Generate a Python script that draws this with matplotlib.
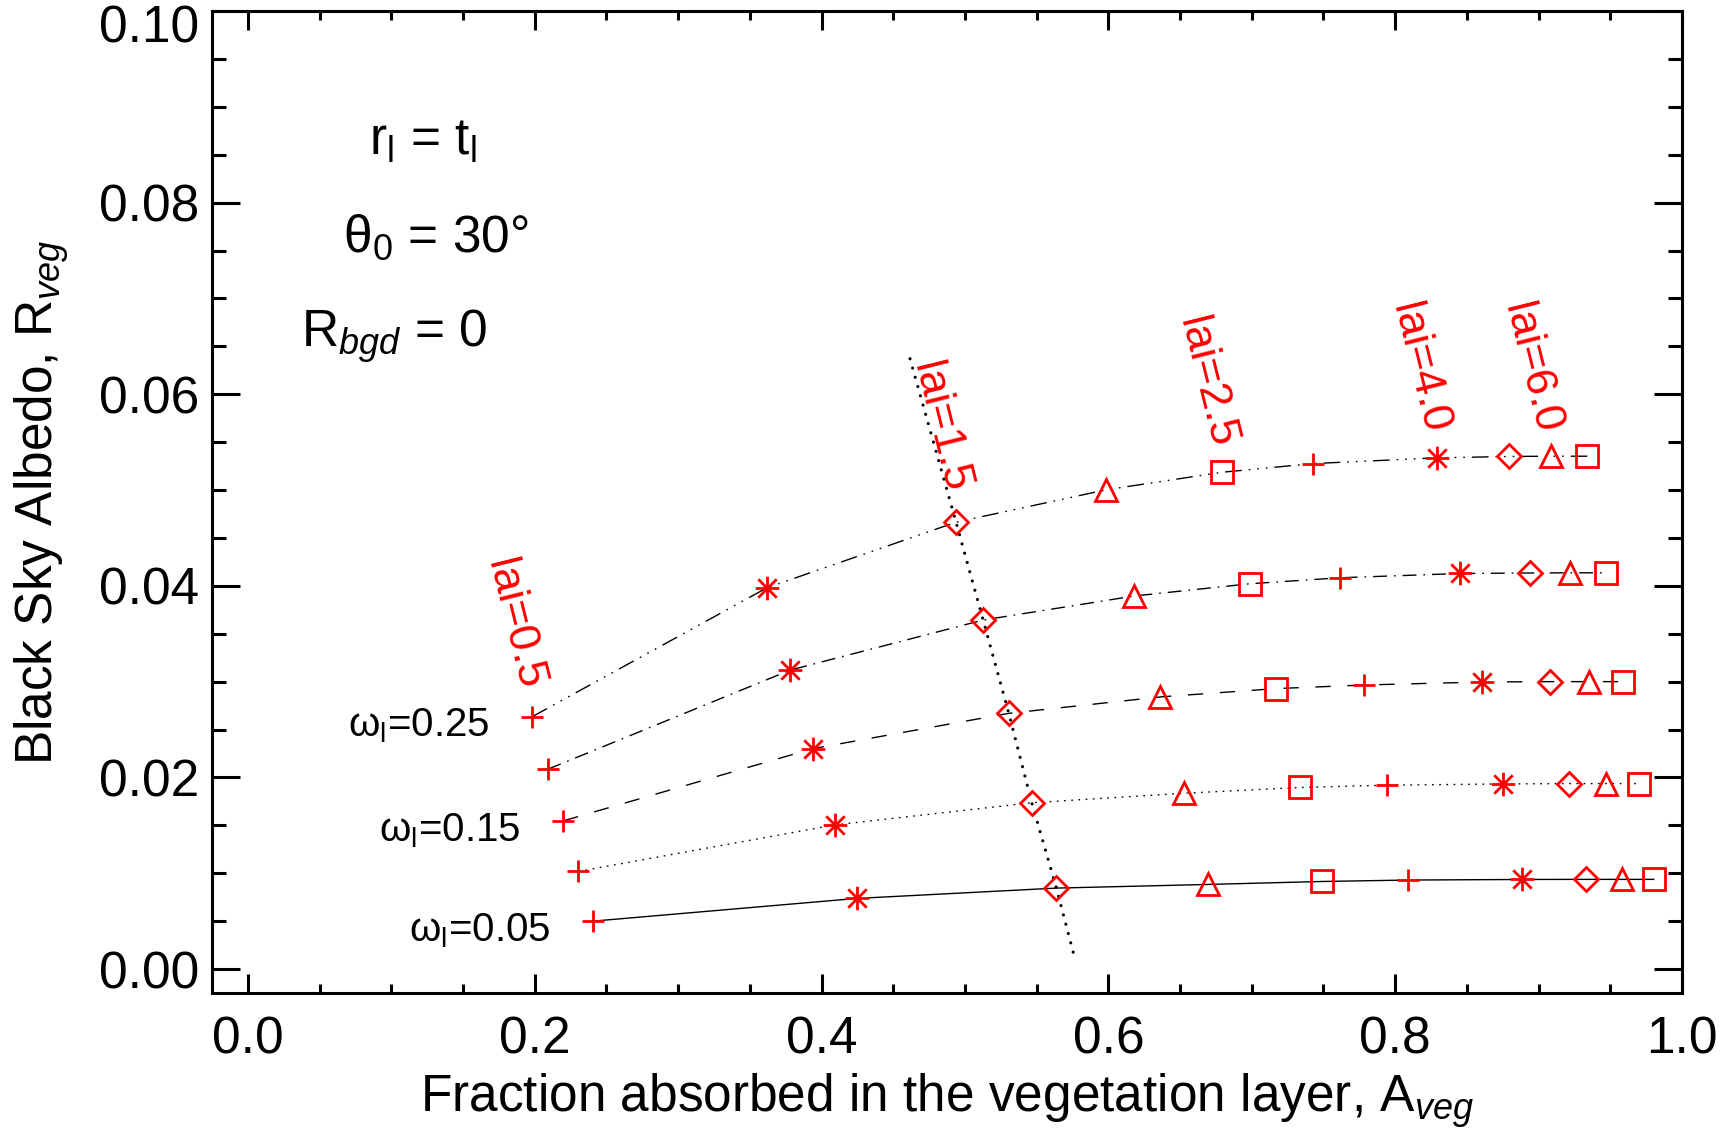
import matplotlib
matplotlib.use("Agg")
import matplotlib.pyplot as plt
from matplotlib.path import Path
from matplotlib.ticker import MultipleLocator, FuncFormatter

plt.rcParams['font.family'] = ['Liberation Sans', 'DejaVu Sans']
plt.rcParams['mathtext.fontset'] = 'custom'
plt.rcParams['mathtext.rm'] = 'Liberation Sans'
plt.rcParams['mathtext.it'] = 'Liberation Sans:italic'
plt.rcParams['mathtext.default'] = 'regular'

# ---------------- data ----------------
lai = [0.5, 1.0, 1.5, 2.0, 2.5, 3.0, 4.0, 5.0, 6.0, 8.0]
omega = [0.05, 0.10, 0.15, 0.20, 0.25]

x_w05 = [0.2406, 0.4244, 0.5638, 0.6692, 0.7489, 0.8091, 0.8884, 0.9330, 0.9581, 0.9803]
y_w05 = [0.00500, 0.00737, 0.00845, 0.00883, 0.00914, 0.00929, 0.00935, 0.00936, 0.00936, 0.00936]
x_w10 = [0.2305, 0.4094, 0.5466, 0.6529, 0.7333, 0.7942, 0.8749, 0.9212, 0.9468, 0.9698]
y_w10 = [0.01019, 0.01505, 0.01736, 0.01835, 0.01895, 0.01919, 0.01932, 0.01936, 0.01936, 0.01936]
x_w15 = [0.2200, 0.3941, 0.5306, 0.6359, 0.7166, 0.7784, 0.8607, 0.9082, 0.9349, 0.9588]
y_w15 = [0.01547, 0.02301, 0.02669, 0.02840, 0.02927, 0.02965, 0.02996, 0.03000, 0.03000, 0.03000]
x_w20 = [0.2092, 0.3783, 0.5127, 0.6176, 0.6989, 0.7615, 0.8454, 0.8942, 0.9221, 0.9470]
y_w20 = [0.02086, 0.03121, 0.03643, 0.03893, 0.04022, 0.04084, 0.04129, 0.04134, 0.04136, 0.04136]
x_w25 = [0.1984, 0.3620, 0.4938, 0.5983, 0.6796, 0.7428, 0.8289, 0.8793, 0.9084, 0.9340]
y_w25 = [0.02635, 0.03980, 0.04664, 0.05002, 0.05186, 0.05276, 0.05336, 0.05350, 0.05353, 0.05353]

# iso-lai (lai=1.5) dotted guide line
iso_x = [0.4617, 0.4938, 0.5127, 0.5306, 0.5466, 0.5638, 0.5765]
iso_y = [0.0637, 0.04664, 0.03643, 0.02669, 0.01736, 0.00845, 0.00117]

# lai labels
lai_lab = ['lai=0.5', 'lai=1.5', 'lai=2.5', 'lai=4.0', 'lai=6.0']
lai_lab_x = [0.1858, 0.4824, 0.6680, 0.8167, 0.8950]
lai_lab_y = [0.0360, 0.0565, 0.0612, 0.0627, 0.0627]

omega_lab = [r'$\omega_\mathrm{l}$=0.25', r'$\omega_\mathrm{l}$=0.15', r'$\omega_\mathrm{l}$=0.05']

# ---------------- styles ----------------
ast = Path([(-1, 0), (1, 0), (0, -1), (0, 1), (-0.78, -0.78), (0.78, 0.78), (-0.78, 0.78), (0.78, -0.78)],
           [Path.MOVETO, Path.LINETO] * 4)
marker_cycle = ['+', ast, 'D', '^', 's']
msize = {'+': 16, '*': 17, 'D': 11.8, '^': 16.5, 's': 16}

styles = {
    0.05: '-',
    0.10: (0, (1.2, 4.0)),
    0.15: (0, (11, 12)),
    0.20: (0, (10, 5, 1.2, 5)),
    0.25: (0, (12, 5, 1.2, 5, 1.2, 5, 1.2, 5)),
}

fig = plt.figure(figsize=(17.32, 11.29), dpi=100)
ax = fig.add_axes([212 / 1732, 1 - 993 / 1129, (1682 - 212) / 1732, (993 - 11) / 1129])

curves = [(0.05, x_w05, y_w05), (0.10, x_w10, y_w10), (0.15, x_w15, y_w15),
          (0.20, x_w20, y_w20), (0.25, x_w25, y_w25)]

for w, xs, ys in curves:
    ax.plot(xs, ys, color='black', lw=1.0, linestyle=styles[w], zorder=2)
    for i, (xv, yv) in enumerate(zip(xs, ys)):
        m = marker_cycle[i % 5]
        key = m if isinstance(m, str) else '*'
        ax.plot([xv], [yv], linestyle='none', marker=m, ms=msize[key], mew=2.0,
                mec='red', mfc='none', zorder=3)

ax.plot(iso_x, iso_y, color='black', lw=2.3, linestyle=(0, (0.01, 3.0)),
        dash_capstyle='round', zorder=2)

for t, xv, yv in zip(lai_lab, lai_lab_x, lai_lab_y):
    ax.text(xv, yv, t, color='red', fontsize=32, rotation=-76,
            ha='center', va='center', rotation_mode='anchor')

for t, (w, xs, ys) in zip(omega_lab, [curves[4], curves[2], curves[0]]):
    ax.text(xs[0] - 0.030, ys[0] - 0.0021, t, fontsize=29, ha='right', va='baseline')

ax.text(0.1218, 0.0850, r'r$_\mathrm{l}$ = t$_\mathrm{l}$', fontsize=37, ha='center', va='baseline')
ax.text(0.1313, 0.0749, r'θ$_\mathrm{0}$ = 30°', fontsize=37, ha='center', va='baseline')
ax.text(0.1023, 0.0650, r'R$_{\mathit{bgd}}$ = 0', fontsize=37, ha='center', va='baseline')

ax.set_xlim(-0.025, 1.0)
ax.set_ylim(-0.0025, 0.10)
ax.xaxis.set_major_locator(MultipleLocator(0.2))
ax.xaxis.set_minor_locator(MultipleLocator(0.05))
ax.yaxis.set_major_locator(MultipleLocator(0.02))
ax.yaxis.set_minor_locator(MultipleLocator(0.005))
ax.xaxis.set_major_formatter(FuncFormatter(lambda v, p: f'{v:.1f}'))
# top y label (0.10) is drawn separately, shifted down to stay inside the figure
ax.yaxis.set_major_formatter(FuncFormatter(lambda v, p: '' if v > 0.099 else f'{v:.2f}'))
ax.annotate('0.10', xy=(0, 0.10), xycoords=('axes fraction', 'data'),
            xytext=(-9, -13), textcoords='offset points', ha='right', va='center', fontsize=37)

ax.tick_params(axis='both', which='both', direction='in', top=True, right=True, width=2.2, colors='black')
ax.tick_params(axis='x', which='major', length=13.7, labelsize=37, pad=16)
ax.tick_params(axis='x', which='minor', length=6.5)
ax.tick_params(axis='y', which='major', length=20, labelsize=37, pad=9)
ax.tick_params(axis='y', which='minor', length=10)
for s in ax.spines.values():
    s.set_linewidth(2.2)

ax.set_xlabel(r'Fraction absorbed in the vegetation layer, A$_{\mathit{veg}}$', fontsize=37, labelpad=5)
ax.set_ylabel(r'Black Sky Albedo, R$_{\mathit{veg}}$', fontsize=37, labelpad=20)

fig.savefig('out.png', dpi=100)
